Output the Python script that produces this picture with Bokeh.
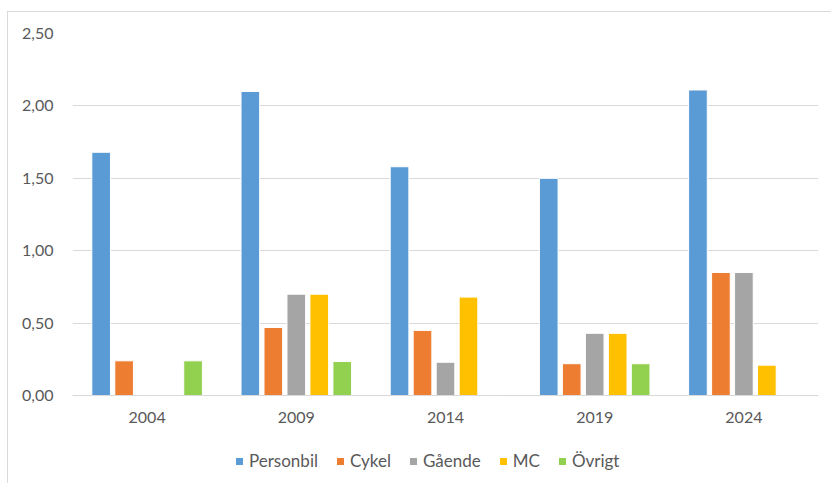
from bokeh.plotting import figure
from bokeh.models import ColumnDataSource, FactorRange, Range1d, FixedTicker, Legend, LegendItem, Span
from bokeh.transform import dodge
from bokeh.core.properties import value
from bokeh.embed import file_html
from bokeh.resources import INLINE

years = ["2004", "2009", "2014", "2019", "2024"]
personbil = [1.68, 2.10, 1.58, 1.50, 2.11]
cykel = [0.24, 0.47, 0.45, 0.22, 0.85]
gaende = [0.0, 0.70, 0.23, 0.43, 0.85]
mc = [0.0, 0.70, 0.68, 0.43, 0.21]
ovrigt = [0.24, 0.235, 0.0, 0.22, 0.0]

series_names = ["Personbil", "Cykel", "Gående", "MC", "Övrigt"]
series_cols = ["personbil", "cykel", "gaende", "mc", "ovrigt"]
colors = ["#5B9BD5", "#ED7D31", "#A5A5A5", "#FFC000", "#92D050"]

y_ticks = [0, 0.5, 1.0, 1.5, 2.0, 2.5]
y_labels = ["0,00", "0,50", "1,00", "1,50", "2,00", "2,50"]

source = ColumnDataSource(dict(years=years, personbil=personbil, cykel=cykel,
                               gaende=gaende, mc=mc, ovrigt=ovrigt,
                               base=[0.0] * len(years)))

FONT = "Lato"
TXT = "#595959"
GRID = "#D9D9D9"

# frame extends below zero so the category labels and legend sit inside it
p = figure(width=824, height=472, x_range=FactorRange(*years), y_range=Range1d(-0.614, 2.5),
           output_backend="svg", toolbar_location=None, x_axis_location=None,
           min_border_left=64, min_border_right=14, min_border_top=21, min_border_bottom=0)
p.styles = {"margin-left": "7px", "margin-top": "11px",
            "border-left": "1px solid #D9D9D9", "border-top": "1px solid #D9D9D9"}
p.outline_line_color = None
p.background_fill_color = "white"
p.border_fill_color = "white"

slot = 0.154
offsets = [-2 * slot, -slot, 0.0, slot, 2 * slot]
renderers = []
for col, name, color, off in zip(series_cols, series_names, colors, offsets):
    r = p.vbar(x=dodge("years", off, range=p.x_range), top=col, width=0.125, source=source,
               fill_color=color, line_color="white", line_width=1)
    renderers.append((name, r))

p.add_layout(Span(location=0, dimension="width", line_color=GRID, line_width=1))

p.text(x="years", y="base", text="years", source=source, y_offset=16,
       text_align="center", text_baseline="top", text_font=value(FONT),
       text_font_size="16px", text_color=TXT)

p.xgrid.grid_line_color = None
p.ygrid.grid_line_color = GRID
p.ygrid.grid_line_width = 1
p.ygrid.ticker = FixedTicker(ticks=y_ticks)

p.yaxis.ticker = FixedTicker(ticks=y_ticks)
p.yaxis.major_label_overrides = {t: l for t, l in zip(y_ticks, y_labels)}
p.yaxis.axis_line_color = None
p.yaxis.major_tick_line_color = None
p.yaxis.minor_tick_line_color = None
p.yaxis.major_label_standoff = 13
p.yaxis.major_label_text_font = FONT
p.yaxis.major_label_text_font_size = "16px"
p.yaxis.major_label_text_color = TXT

legend = Legend(items=[LegendItem(label=n, renderers=[r]) for n, r in renderers],
                orientation="horizontal", location=(162, 13),
                glyph_width=10, glyph_height=10, label_standoff=5, spacing=17,
                padding=0, margin=0, border_line_color=None, background_fill_alpha=0,
                label_text_font=FONT, label_text_font_size="17px", label_text_color=TXT)
p.add_layout(legend, "center")

open("out.html", "w").write(file_html(p, INLINE))
